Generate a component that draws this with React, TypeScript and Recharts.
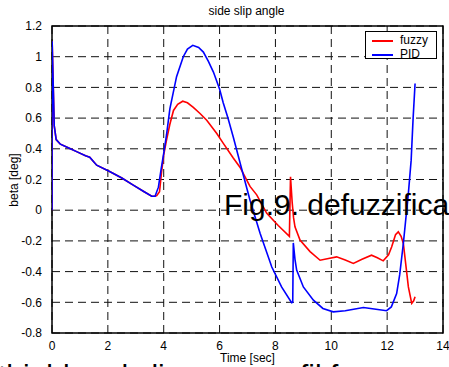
import React from "react";
import {
  LineChart, Line, XAxis, YAxis, CartesianGrid, ReferenceArea,
} from "recharts";

// fuzzy controller response (red)
const fuzzyTime = [
  0, 0.005, 0.08, 0.15, 0.3, 0.6, 0.9, 1.2, 1.35, 1.6, 2.08, 2.5, 2.91, 3.3, 3.57, 3.69, 3.75,
  3.85, 3.93, 4.0, 4.1, 4.22, 4.35, 4.5, 4.68, 4.85, 5.06, 5.3, 5.54, 5.9, 6.14, 6.49, 6.73,
  7.09, 7.33, 7.69, 8.1, 8.5, 8.54, 8.6, 8.65, 8.7, 8.88, 9.24, 9.6, 9.9, 10.19, 10.5, 10.79,
  11.1, 11.44, 11.65, 11.86, 12.05, 12.16, 12.3, 12.4, 12.5, 12.58, 12.76, 12.88, 12.95, 13.0,
];
const fuzzyBeta = [
  0, 1.1, 0.55, 0.46, 0.43, 0.405, 0.38, 0.355, 0.345, 0.293, 0.25, 0.21, 0.163, 0.12, 0.091, 0.091, 0.095,
  0.12, 0.26, 0.36, 0.456, 0.56, 0.65, 0.69, 0.71, 0.7, 0.67, 0.63, 0.586, 0.5, 0.434, 0.34, 0.28,
  0.155, 0.1, -0.02, -0.1, -0.17, 0.217, 0.05, -0.05, -0.108, -0.195, -0.27, -0.326, -0.315, -0.304, -0.325, -0.347,
  -0.32, -0.293, -0.31, -0.33, -0.29, -0.24, -0.16, -0.141, -0.17, -0.217, -0.5, -0.607, -0.59, -0.564,
];

// PID controller response (blue)
const pidTime = [
  0, 0.005, 0.08, 0.15, 0.3, 0.6, 0.9, 1.2, 1.35, 1.6, 2.08, 2.5, 2.91, 3.3, 3.57, 3.69, 3.81,
  3.9, 4.0, 4.1, 4.22, 4.46, 4.7, 4.85, 5.04, 5.25, 5.42, 5.6, 5.78, 6.0, 6.13, 6.3, 6.49,
  6.79, 7.09, 7.45, 7.87, 8.22, 8.58, 8.62, 8.64, 8.7, 8.76, 9.0, 9.36, 9.7, 10.07, 10.5,
  11.15, 11.6, 11.98, 12.15, 12.34, 12.45, 12.58, 12.76, 12.86, 12.93, 13.0,
];
const pidBeta = [
  0, 1.1, 0.55, 0.46, 0.43, 0.405, 0.38, 0.355, 0.345, 0.293, 0.25, 0.21, 0.163, 0.12, 0.091, 0.091, 0.15,
  0.26, 0.37, 0.49, 0.66, 0.87, 1.0, 1.05, 1.074, 1.06, 1.03, 0.97, 0.9, 0.79, 0.7, 0.6, 0.477,
  0.27, 0.065, -0.15, -0.37, -0.5, -0.603, -0.6, -0.213, -0.32, -0.39, -0.5, -0.586, -0.64, -0.662, -0.655,
  -0.634, -0.645, -0.655, -0.63, -0.543, -0.42, -0.217, 0.11, 0.326, 0.6, 0.825,
];

const xTicks = [0, 2, 4, 6, 8, 10, 12, 14];
const yTicks = [-0.8, -0.6, -0.4, -0.2, 0, 0.2, 0.4, 0.6, 0.8, 1, 1.2];

const fuzzyData = fuzzyTime.map((t, i) => ({ t, beta: fuzzyBeta[i] }));
const pidData = pidTime.map((t, i) => ({ t, beta: pidBeta[i] }));

const font = "'Liberation Sans', Arial, sans-serif";
const tickStyle = { fontSize: 12, fill: "#000", fontFamily: font };

export default function App() {
  return (
    <div style={{ position: "fixed", left: 0, top: 0, width: 449, height: 367, overflow: "hidden", background: "#fff", fontFamily: font }}>
      <LineChart width={449} height={367} margin={{ top: 26, right: 6, bottom: 0, left: 0 }}>
        <CartesianGrid stroke="#111" strokeDasharray="8 5" />
        <XAxis
          type="number" dataKey="t" domain={[0, 14]} ticks={xTicks} height={34}
          tickLine={false} axisLine={false} tick={tickStyle} tickMargin={2} allowDataOverflow
        />
        <YAxis
          type="number" dataKey="beta" domain={[-0.8, 1.2]} ticks={yTicks} width={52}
          tickLine={false} axisLine={false} tick={tickStyle} tickMargin={4} allowDataOverflow
        />
        <Line data={fuzzyData} dataKey="beta" stroke="#ff0000" strokeWidth={1.6} dot={false} isAnimationActive={false} type="linear" />
        <Line data={pidData} dataKey="beta" stroke="#0000ff" strokeWidth={1.6} dot={false} isAnimationActive={false} type="linear" />
        <ReferenceArea x1={0} x2={14} y1={-0.8} y2={1.2} fill="none" stroke="#000" strokeWidth={1.5} ifOverflow="visible" />
      </LineChart>

      <div style={{ position: "absolute", left: 0, width: 449, top: 4, textAlign: "center", paddingLeft: 44, boxSizing: "border-box", fontSize: 12 }}>side slip angle</div>
      <div style={{ position: "absolute", left: 52, width: 391, top: 351, textAlign: "center", fontSize: 12 }}>Time [sec]</div>
      <div style={{ position: "absolute", left: 14, top: 180, fontSize: 12, whiteSpace: "nowrap", transform: "translate(-50%, -50%) rotate(-90deg)" }}>beta [deg]</div>

      <div style={{ position: "absolute", left: 365, top: 31, width: 72, height: 28, border: "1px solid #000", background: "#fff", boxSizing: "border-box", fontSize: 12 }}>
        <div style={{ position: "absolute", left: 6, top: 8, width: 21, height: 2, background: "#ff0000" }} />
        <div style={{ position: "absolute", left: 34, top: 1 }}>fuzzy</div>
        <div style={{ position: "absolute", left: 6, top: 22, width: 21, height: 2, background: "#0000ff" }} />
        <div style={{ position: "absolute", left: 34, top: 15 }}>PID</div>
      </div>

      <div style={{ position: "absolute", left: 224, top: 188, fontSize: 30, whiteSpace: "nowrap", color: "#000" }}>Fig.9. defuzzification</div>
      <div style={{ position: "absolute", left: -2, top: 359, fontSize: 30, whiteSpace: "nowrap", color: "#000" }}>thield and sli</div>
      <div style={{ position: "absolute", left: 300, top: 359, fontSize: 30, whiteSpace: "nowrap", color: "#000" }}>fil f</div>
    </div>
  );
}
